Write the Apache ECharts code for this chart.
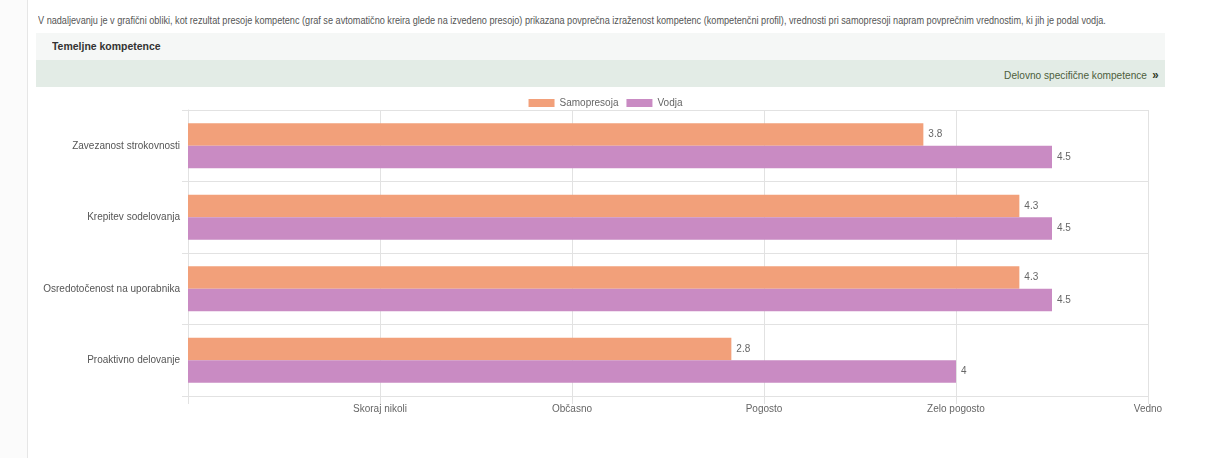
<!DOCTYPE html>
<html>
<head>
<meta charset="utf-8">
<script src="https://cdn.jsdelivr.net/npm/echarts@6/dist/echarts.min.js"></script>
<style>
  html, body { margin:0; padding:0; width:1211px; height:458px; background:#fff; overflow:hidden; font-family:"Liberation Sans",sans-serif; }
  #side { position:absolute; left:0; top:0; width:27px; height:458px; background:#fbfbfb; border-right:1px solid #e6e6e6; }
  #intro { position:absolute; left:38px; top:14px; font-size:10.5px; color:#555; white-space:nowrap; transform-origin:0 0; transform:scaleX(0.87); }
  #hdr { position:absolute; left:36px; top:33px; width:1129px; height:27px; background:#f5f7f6; }
  #hdr span { position:absolute; left:16px; top:7px; font-size:11.5px; font-weight:bold; color:#333; transform-origin:0 0; transform:scaleX(0.91); white-space:nowrap; }
  #band { position:absolute; left:36px; top:60px; width:1129px; height:27px; background:#e3ece6; }
  #band span { position:absolute; right:6px; top:7px; font-size:11.5px; color:#4d5e3c; transform-origin:100% 0; transform:scaleX(0.88); white-space:nowrap; }
  #band b { font-size:13px; color:#2f3a25; margin-left:6px; }
  #chart { position:absolute; left:0; top:0; width:1211px; height:458px; }
</style>
</head>
<body>
<div id="side"></div>
<div id="intro">V nadaljevanju je v grafični obliki, kot rezultat presoje kompetenc (graf se avtomatično kreira glede na izvedeno presojo) prikazana povprečna izraženost kompetenc (kompetenčni profil), vrednosti pri samopresoji napram povprečnim vrednostim, ki jih je podal vodja.</div>
<div id="hdr"><span>Temeljne kompetence</span></div>
<div id="band"><span>Delovno specifične kompetence<b>»</b></span></div>
<div id="chart"></div>
<script>
const categories = ["Zavezanost strokovnosti", "Krepitev sodelovanja", "Osredotočenost na uporabnika", "Proaktivno delovanje"];
const samopresoja = [3.83, 4.33, 4.33, 2.83];
const vodja = [4.5, 4.5, 4.5, 4];
const tickLabels = ["", "Skoraj nikoli", "Občasno", "Pogosto", "Zelo pogosto", "Vedno"];
const seriesNames = ["Samopresoja", "Vodja"];

const chart = echarts.init(document.getElementById('chart'));
const font = '"Liberation Sans",sans-serif';
const labelCfg = {
  show: true, position: 'right', distance: 5, color: '#666', fontSize: 10, fontFamily: font,
  formatter: p => { const v = Math.round(p.value * 10) / 10; return String(v); }
};
chart.setOption({
  animation: false,
  textStyle: { fontFamily: font },
  legend: {
    data: seriesNames, top: 93, left: 'center', itemWidth: 26, itemHeight: 8, itemGap: 8,
    icon: 'rect',
    textStyle: { color: '#666', fontSize: 10, fontFamily: font }
  },
  grid: { left: 188, right: 63, top: 110, bottom: 62, containLabel: false },
  xAxis: {
    type: 'value', min: 0, max: 5, interval: 1,
    axisLine: { show: false },
    axisTick: { show: true, length: 8, lineStyle: { color: '#e2e2e2' } },
    splitLine: { show: true, lineStyle: { color: '#e2e2e2' } },
    axisLabel: { color: '#666', fontSize: 10, margin: 8, formatter: v => tickLabels[v] || '' }
  },
  yAxis: {
    type: 'category', data: categories, inverse: true,
    axisLine: { show: true, lineStyle: { color: '#e2e2e2' } },
    axisTick: { show: true, length: 6, lineStyle: { color: '#e2e2e2' } },
    splitLine: { show: true, lineStyle: { color: '#e2e2e2' } },
    axisLabel: { color: '#555', fontSize: 10, margin: 8 }
  },
  series: [
    { name: seriesNames[0], type: 'bar', data: samopresoja, barGap: '0%', barCategoryGap: '37%',
      itemStyle: { color: '#f2a07a' }, label: labelCfg },
    { name: seriesNames[1], type: 'bar', data: vodja, barGap: '0%', barCategoryGap: '37%',
      itemStyle: { color: '#c98bc3' }, label: labelCfg }
  ]
});
</script>
</body>
</html>
